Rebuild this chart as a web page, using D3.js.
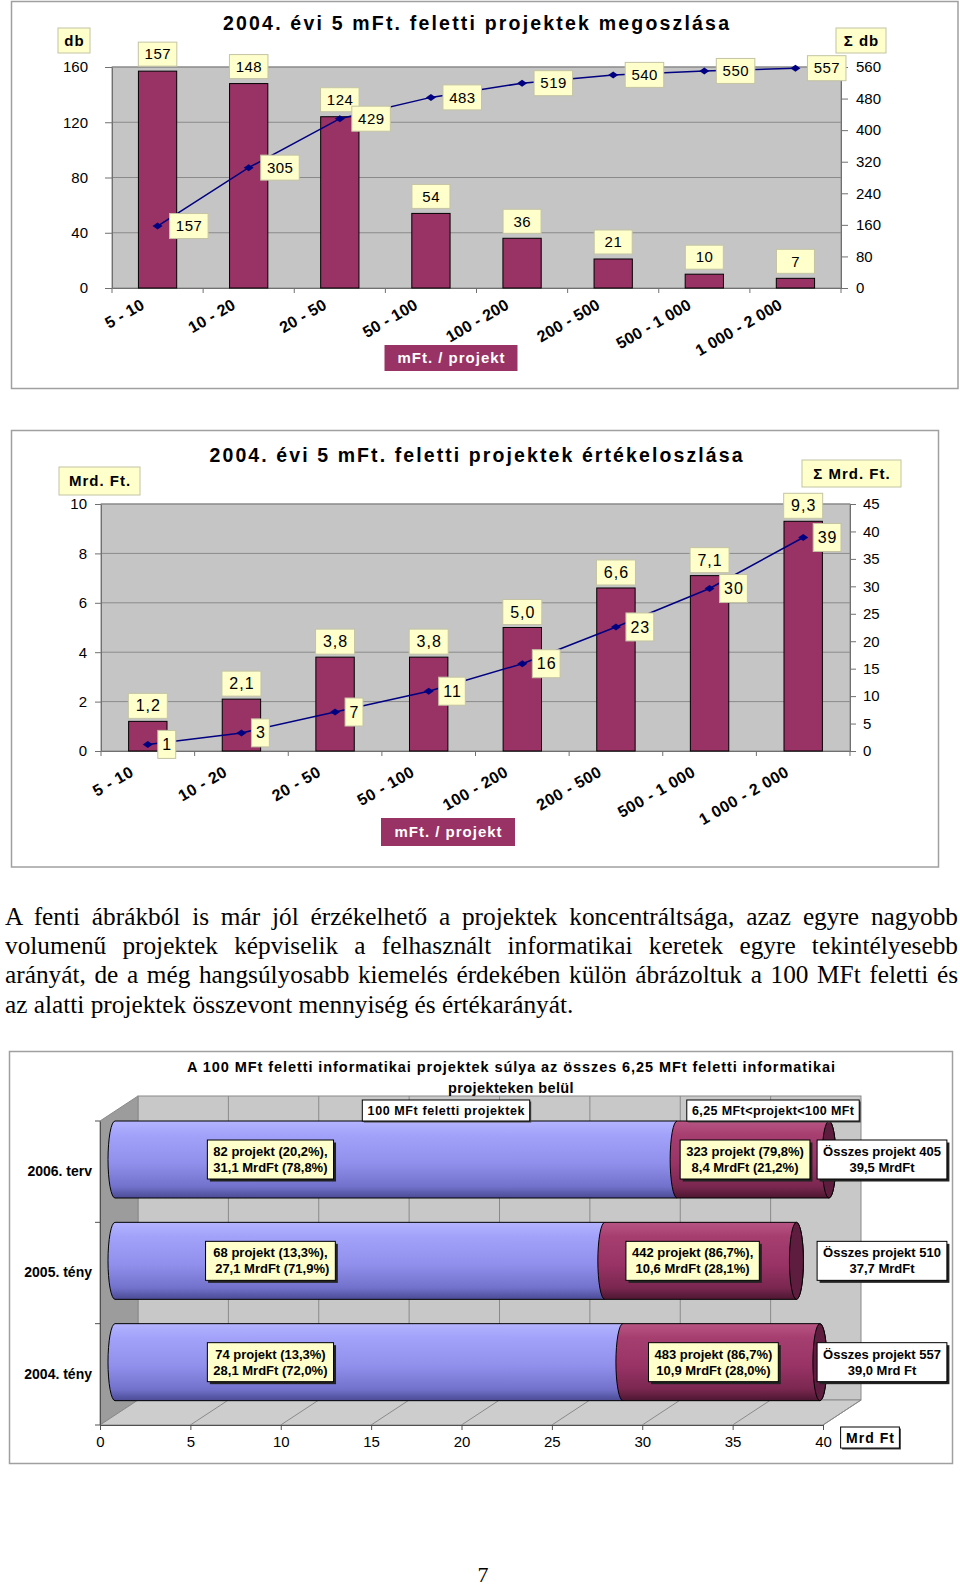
<!DOCTYPE html>
<html>
<head>
<meta charset="utf-8">
<script src="https://cdn.jsdelivr.net/npm/d3@7"></script>
<style>
body { margin: 0; background: #fff; }
svg { display: block; font-family: "Liberation Sans", Arial, sans-serif; }
</style>
</head>
<body>
<svg id="page" width="960" height="1586"></svg>
<script>
// kategóriák (mFt / projekt)
const categories = ["5 - 10", "10 - 20", "20 - 50", "50 - 100", "100 - 200", "200 - 500", "500 - 1 000", "1 000 - 2 000"];

// 1. ábra: darabszám és kumulált darabszám
const projectCount = [157, 148, 124, 54, 36, 21, 10, 7];
const projectCountCum = [157, 305, 429, 483, 519, 540, 550, 557];
const countTicks = [0, 40, 80, 120, 160];
const countCumTicks = [0, 80, 160, 240, 320, 400, 480, 560];

// 2. ábra: érték (Mrd Ft) és kumulált érték
const projectValue = [1.2, 2.1, 3.8, 3.8, 5.0, 6.6, 7.1, 9.3];
const projectValueCum = [1.2, 3.3, 7.1, 10.9, 15.9, 22.6, 29.6, 38.9];
const valueTicks = [0, 2, 4, 6, 8, 10];
const valueCumTicks = [0, 5, 10, 15, 20, 25, 30, 35, 40, 45];

// 3. ábra
const years = ["2006. terv", "2005. tény", "2004. tény"];
const over100 = [31.1, 27.1, 28.1];
const under100 = [8.4, 10.6, 10.9];
const over100Labels = [["82 projekt (20,2%),", "31,1 MrdFt (78,8%)"], ["68 projekt (13,3%),", " 27,1 MrdFt (71,9%)"], ["74 projekt (13,3%)", "28,1 MrdFt (72,0%)"]];
const under100Labels = [["323 projekt (79,8%)", "8,4 MrdFt (21,2%)"], ["442 projekt (86,7%),", "10,6 MrdFt (28,1%)"], ["483 projekt (86,7%)", "10,9 MrdFt (28,0%)"]];
const totalLabels = [["Összes projekt 405", "39,5 MrdFt"], ["Összes projekt 510", "37,7 MrdFt"], ["Összes projekt 557", "39,0 Mrd Ft"]];
const mrdTicks = [0, 5, 10, 15, 20, 25, 30, 35, 40];
const seriesNames = ["100 MFt feletti projektek", "6,25 MFt<projekt<100 MFt"];

const paragraphLines = [
    "A fenti ábrákból is már jól érzékelhető a projektek koncentráltsága, azaz egyre nagyobb",
    "volumenű projektek képviselik a felhasznált informatikai keretek egyre tekintélyesebb",
    "arányát, de a még hangsúlyosabb kiemelés érdekében külön ábrázoltuk a 100 MFt feletti és",
    "az alatti projektek összevont mennyiség és értékarányát."
];

const svg = d3.select("#page");
svg.append("rect").attr("width", 960).attr("height", 1586).attr("fill", "#fff");

const YELLOW = "#ffffcc";
const PLUM = "#993366";

function boxLabel(g, text, o) {
    let grp = g.append("g");
    let rect = grp.append("rect");
    let t = grp.append("text").text(text)
        .attr("font-size", o.fs)
        .attr("font-weight", o.fw || "normal")
        .attr("letter-spacing", o.ls || 0)
        .attr("fill", o.color || "#000")
        .attr("text-anchor", "middle");
    let tw = t.node().getComputedTextLength();
    let w = o.w || Math.max(o.minW || 0, tw + 2 * o.padX);
    let cx = o.cx != null ? o.cx : o.left + w / 2;
    t.attr("x", cx + (o.ls || 0) / 2).attr("y", o.cy + o.fs * 0.35);
    rect.attr("x", cx - w / 2).attr("y", o.cy - o.h / 2)
        .attr("width", w).attr("height", o.h)
        .attr("fill", o.fill)
        .attr("stroke", o.stroke || "none")
        .attr("stroke-width", 1);
    return grp;
}

function styleAxis(sel, fs, weight) {
    sel.attr("font-family", null).attr("font-size", null);
    sel.selectAll("text").attr("font-size", fs).attr("font-weight", weight || "normal").attr("fill", "#000");
    sel.selectAll("line,path").attr("stroke", "#707070");
}

function comboChart(c) {
    let g = svg.append("g");

    g.append("rect")
        .attr("x", c.frame[0]).attr("y", c.frame[1])
        .attr("width", c.frame[2]).attr("height", c.frame[3])
        .attr("fill", "#fff").attr("stroke", "#a0a0a0").attr("stroke-width", 1.5);

    let x = d3.scaleBand().domain(categories).range([c.left, c.right]);
    let yL = d3.scaleLinear().domain(d3.extent(c.leftTicks)).range([c.bottom, c.top]);
    let yR = d3.scaleLinear().domain(d3.extent(c.rightTicks)).range([c.bottom, c.top]);

    // plot area
    g.append("rect")
        .attr("x", c.left).attr("y", c.top)
        .attr("width", c.right - c.left).attr("height", c.bottom - c.top)
        .attr("fill", "#c5c5c5").attr("stroke", "#8a8a8a");

    g.selectAll(".grid")
        .data(c.leftTicks.slice(1))
        .enter()
        .append("line")
        .attr("x1", c.left).attr("x2", c.right)
        .attr("y1", d => yL(d)).attr("y2", d => yL(d))
        .attr("stroke", "#8a8a8a");

    // axes
    let leftAxis = d3.axisLeft(yL).tickValues(c.leftTicks).tickSize(c.tickSize).tickSizeOuter(0).tickPadding(c.leftPad);
    g.append("g").attr("transform", "translate(" + c.left + ",0)").call(leftAxis).call(s => styleAxis(s, c.tickFont));

    let rightAxis = d3.axisRight(yR).tickValues(c.rightTicks).tickSize(c.tickSize).tickSizeOuter(0).tickPadding(c.rightPad);
    g.append("g").attr("transform", "translate(" + c.right + ",0)").call(rightAxis).call(s => styleAxis(s, c.tickFont));

    let bottomAxis = d3.axisBottom(x).tickSize(0).tickSizeOuter(0);
    let bx = g.append("g").attr("transform", "translate(0," + c.bottom + ")").call(bottomAxis);
    styleAxis(bx, 16, "bold");
    bx.selectAll("text")
        .attr("x", 0).attr("y", 0).attr("dy", null)
        .attr("letter-spacing", c.catLs)
        .style("text-anchor", "end")
        .attr("transform", "translate(" + c.catDx + "," + c.catDy + ") rotate(-30)");

    let bounds = categories.map(d => x(d)).concat([c.right]);
    g.selectAll(".xtick")
        .data(bounds)
        .enter()
        .append("line")
        .attr("x1", d => d).attr("x2", d => d)
        .attr("y1", c.bottom).attr("y2", c.bottom + 5)
        .attr("stroke", "#707070");

    // bars
    let bw = x.bandwidth() * c.barRatio;
    g.selectAll(".bar")
        .data(c.leftVals)
        .enter()
        .append("rect")
        .attr("x", (d, i) => x(categories[i]) + (x.bandwidth() - bw) / 2)
        .attr("y", d => yL(d))
        .attr("width", bw)
        .attr("height", d => c.bottom - yL(d))
        .attr("fill", PLUM)
        .attr("stroke", "#000")
        .attr("stroke-width", 1);

    // cumulative line
    let cx = (d, i) => x(categories[i]) + x.bandwidth() / 2;
    let line = d3.line().x(cx).y(d => yR(d));
    g.append("path").datum(c.rightVals)
        .attr("d", line)
        .attr("fill", "none")
        .attr("stroke", "#000080")
        .attr("stroke-width", 1.5);

    g.selectAll(".marker")
        .data(c.rightVals)
        .enter()
        .append("path")
        .attr("d", "M-5,0L0,-3.5L5,0L0,3.5Z")
        .attr("transform", (d, i) => "translate(" + cx(d, i) + "," + yR(d) + ")")
        .attr("fill", "#000080");

    // value labels
    c.leftVals.forEach(function(d, i) {
        boxLabel(g, c.barFmt(d), {
            cx: cx(d, i), cy: yL(d) - c.barGap - c.barBoxH / 2, h: c.barBoxH,
            minW: c.barBoxMinW, padX: 6, fs: c.valueFont, ls: c.valueLs,
            fill: YELLOW, stroke: "#c4c4a4"
        });
    });
    c.rightVals.forEach(function(d, i) {
        boxLabel(g, c.lineFmt(d), {
            left: cx(d, i) + c.lineGap, cy: yR(d), h: c.lineBoxH,
            padX: c.linePad, fs: c.valueFont, ls: c.valueLs,
            fill: YELLOW, stroke: "#c4c4a4"
        });
    });

    // title
    g.append("text")
        .attr("x", c.titleX).attr("y", c.titleY)
        .attr("text-anchor", "middle")
        .attr("font-size", 19.5).attr("font-weight", "bold")
        .attr("textLength", c.titleLen).attr("lengthAdjust", "spacing")
        .text(c.title);

    boxLabel(g, c.leftUnit.text, {cx: c.leftUnit.cx, cy: c.leftUnit.cy, w: c.leftUnit.w, h: c.leftUnit.h, fs: 15, fw: "bold", ls: 1, fill: YELLOW, stroke: "#c4c4a4"});
    boxLabel(g, c.rightUnit.text, {cx: c.rightUnit.cx, cy: c.rightUnit.cy, w: c.rightUnit.w, h: c.rightUnit.h, fs: 15, fw: "bold", ls: 1, fill: YELLOW, stroke: "#c4c4a4"});
    boxLabel(g, "mFt. / projekt", {cx: c.axisLabel.cx, cy: c.axisLabel.cy, w: c.axisLabel.w, h: c.axisLabel.h, fs: 15, fw: "bold", ls: 1, fill: PLUM, color: "#fff"});
}

comboChart({
    frame: [11.5, 1.5, 946.5, 387],
    left: 112, right: 841, top: 67, bottom: 288,
    leftVals: projectCount, rightVals: projectCountCum,
    leftTicks: countTicks, rightTicks: countCumTicks,
    title: "2004. évi 5 mFt. feletti projektek megoszlása", titleX: 476, titleY: 30, titleLen: 506,
    leftUnit: {text: "db", cx: 74, cy: 40.5, w: 32, h: 25},
    rightUnit: {text: "Σ db", cx: 861, cy: 40.5, w: 50, h: 25},
    axisLabel: {cx: 451, cy: 358, w: 133, h: 26},
    tickFont: 15, tickSize: 7, leftPad: 17, rightPad: 8,
    barFmt: d3.format("d"), lineFmt: d3.format("d"),
    valueFont: 15, valueLs: 0.5,
    barRatio: 0.42, barBoxH: 24, barBoxMinW: 38, barGap: 5,
    lineBoxH: 25, linePad: 6, lineGap: 12,
    catDx: -12, catDy: 20, catLs: 0.2
});

comboChart({
    frame: [11.5, 430.5, 927, 436.5],
    left: 101, right: 850, top: 504, bottom: 751,
    leftVals: projectValue, rightVals: projectValueCum,
    leftTicks: valueTicks, rightTicks: valueCumTicks,
    title: "2004. évi 5 mFt. feletti projektek értékeloszlása", titleX: 476, titleY: 462, titleLen: 533,
    leftUnit: {text: "Mrd. Ft.", cx: 99.5, cy: 481, w: 81, h: 28},
    rightUnit: {text: "Σ Mrd. Ft.", cx: 851.5, cy: 473.5, w: 99, h: 27},
    axisLabel: {cx: 448, cy: 832, w: 134, h: 28},
    tickFont: 15, tickSize: 6, leftPad: 8, rightPad: 7,
    barFmt: v => d3.format(".1f")(v).replace(".", ","), lineFmt: d3.format(".0f"),
    valueFont: 16, valueLs: 1,
    barRatio: 0.41, barBoxH: 25, barBoxMinW: 39, barGap: 3,
    lineBoxH: 28, linePad: 4, lineGap: 10,
    catDx: -13, catDy: 24, catLs: 0.5
});

// szöveg
let para = svg.append("g")
    .attr("font-family", "'Liberation Serif', 'Times New Roman', serif")
    .attr("font-size", 25.3);
paragraphLines.forEach(function(s, i) {
    let t = para.append("text").attr("x", 5).attr("y", 925 + i * 29.2).text(s);
    if (i < paragraphLines.length - 1) {
        let natural = t.node().getComputedTextLength();
        let spaces = s.split(" ").length - 1;
        t.attr("word-spacing", (953 - natural) / spaces);
    }
});

// 3. ábra
(function() {
    let g = svg.append("g");
    g.append("rect").attr("x", 9.5).attr("y", 1051.5).attr("width", 943).attr("height", 412)
        .attr("fill", "#fff").attr("stroke", "#a0a0a0").attr("stroke-width", 1.5);

    let defs = svg.append("defs");
    function grad(id, stops) {
        let lg = defs.append("linearGradient").attr("id", id).attr("x1", 0).attr("y1", 0).attr("x2", 0).attr("y2", 1);
        stops.forEach(s => lg.append("stop").attr("offset", s[0]).attr("stop-color", s[1]));
    }
    grad("blueCyl", [[0, "#b4b4ff"], [0.18, "#a2a2fa"], [0.55, "#9090ec"], [0.85, "#7272cc"], [1, "#4a4a94"]]);
    grad("plumCyl", [[0, "#b85584"], [0.18, "#a63f70"], [0.55, "#993366"], [0.85, "#7a2750"], [1, "#4c1630"]]);

    let x3 = d3.scaleLinear().domain([0, 40]).range([100, 823]);
    let y3 = d3.scaleBand().domain(years).range([1121, 1425]);
    let DX = 38, DY = -25;
    let top0 = 1121, bot0 = 1425;

    // falak
    g.append("rect").attr("x", x3(0) + DX).attr("y", top0 + DY)
        .attr("width", x3(40) - x3(0)).attr("height", bot0 - top0)
        .attr("fill", "#c8c8c8").attr("stroke", "#8a8a8a");
    g.selectAll(".vgrid").data(mrdTicks.slice(1, -1)).enter().append("line")
        .attr("x1", d => x3(d) + DX).attr("x2", d => x3(d) + DX)
        .attr("y1", top0 + DY).attr("y2", bot0 + DY)
        .attr("stroke", "#8a8a8a");
    g.append("polygon")
        .attr("points", [[x3(0), top0], [x3(0) + DX, top0 + DY], [x3(0) + DX, bot0 + DY], [x3(0), bot0]].join(" "))
        .attr("fill", "#9c9c9c").attr("stroke", "#8a8a8a");
    g.append("polygon")
        .attr("points", [[x3(0), bot0], [x3(0) + DX, bot0 + DY], [x3(40) + DX, bot0 + DY], [x3(40), bot0]].join(" "))
        .attr("fill", "#cdcdcd").attr("stroke", "#8a8a8a");
    g.selectAll(".fgrid").data(mrdTicks.slice(1)).enter().append("line")
        .attr("x1", d => x3(d)).attr("x2", d => x3(d) + DX)
        .attr("y1", bot0).attr("y2", bot0 + DY)
        .attr("stroke", "#8a8a8a");

    // tengelyek
    let ax = g.append("g").attr("transform", "translate(0," + bot0 + ")")
        .call(d3.axisBottom(x3).tickValues(mrdTicks).tickSize(5).tickSizeOuter(0).tickPadding(6));
    styleAxis(ax, 15);
    ax.selectAll("line,path").attr("stroke", "#505050");

    let ay = g.append("g").attr("transform", "translate(" + x3(0) + ",0)")
        .call(d3.axisLeft(y3).tickSize(0).tickSizeOuter(0).tickPadding(8));
    styleAxis(ay, 14, "bold");
    ay.selectAll("line,path").attr("stroke", "#505050");
    g.selectAll(".ytick").data(years.map(d => y3(d)).concat([bot0])).enter().append("line")
        .attr("x1", x3(0) - 5).attr("x2", x3(0))
        .attr("y1", d => d).attr("y2", d => d)
        .attr("stroke", "#505050");

    function multiBox(lines, cx, cy, fill) {
        let grp = g.append("g");
        let shadow = grp.append("rect");
        let rect = grp.append("rect");
        let t = grp.append("text")
            .attr("font-size", 13).attr("font-weight", "bold")
            .attr("text-anchor", "middle").style("white-space", "pre");
        lines.forEach(function(s, k) {
            t.append("tspan").attr("x", cx).attr("y", cy - 3.5 + k * 16).text(s);
        });
        let w = d3.max(t.selectAll("tspan").nodes(), n => n.getComputedTextLength()) + 12;
        let h = 39;
        rect.attr("x", cx - w / 2).attr("y", cy - h / 2).attr("width", w).attr("height", h)
            .attr("fill", fill).attr("stroke", "#000");
        shadow.attr("x", cx - w / 2 + 2.5).attr("y", cy - h / 2 + 2.5).attr("width", w).attr("height", h)
            .attr("fill", "#222");
    }

    // hengerek
    let off = 15, rx = 7, ry = y3.bandwidth() * 0.38;
    years.forEach(function(yr, i) {
        let cy = y3(yr) + ry;
        let top = cy - ry, bot = cy + ry;
        let x0 = x3(0) + off, x1 = x3(over100[i]) + off, x2 = x3(over100[i] + under100[i]) + off;
        g.append("path")
            .attr("d", "M" + x1 + "," + top + "L" + x0 + "," + top + "A" + rx + "," + ry + " 0 0 0 " + x0 + "," + bot + "L" + x1 + "," + bot + "Z")
            .attr("fill", "url(#blueCyl)").attr("stroke", "#000").attr("stroke-width", 1);
        g.append("path")
            .attr("d", "M" + x1 + "," + top + "L" + x2 + "," + top + "A" + rx + "," + ry + " 0 0 1 " + x2 + "," + bot + "L" + x1 + "," + bot + "A" + rx + "," + ry + " 0 0 1 " + x1 + "," + top + "Z")
            .attr("fill", "url(#plumCyl)").attr("stroke", "#000").attr("stroke-width", 1);
        g.append("ellipse").attr("cx", x2).attr("cy", cy).attr("rx", rx).attr("ry", ry)
            .attr("fill", "#5e1d3e").attr("stroke", "#000").attr("stroke-width", 1);

        multiBox(over100Labels[i], x3(8.6) + off, cy, YELLOW);
        multiBox(under100Labels[i], (x1 + x2) / 2 - 8, cy, YELLOW);
        multiBox(totalLabels[i], 882, cy, "#fff");
    });

    // jelmagyarázat
    function legendBox(text, cx, cy, fs, ls) {
        let grp = g.append("g");
        let shadow = grp.append("rect");
        let rect = grp.append("rect");
        let t = grp.append("text").text(text)
            .attr("font-size", fs).attr("font-weight", "bold").attr("letter-spacing", ls)
            .attr("text-anchor", "middle").attr("x", cx + ls / 2).attr("y", cy + fs * 0.36);
        let w = t.node().getComputedTextLength() + 10;
        rect.attr("x", cx - w / 2).attr("y", cy - 10.5).attr("width", w).attr("height", 21)
            .attr("fill", "#fff").attr("stroke", "#000");
        shadow.attr("x", cx - w / 2 + 1.5).attr("y", cy - 9).attr("width", w).attr("height", 21).attr("fill", "#444");
    }
    legendBox(seriesNames[0], 446, 1110.5, 12.5, 0.6);
    legendBox(seriesNames[1], 773, 1110.5, 12.5, 0.4);
    legendBox("Mrd Ft", 870, 1437.5, 14, 1);

    // cím
    g.append("text").attr("x", 511).attr("y", 1072).attr("text-anchor", "middle")
        .attr("font-size", 14.5).attr("font-weight", "bold")
        .attr("textLength", 648).attr("lengthAdjust", "spacing")
        .text("A 100 MFt feletti informatikai projektek súlya az összes 6,25 MFt feletti informatikai");
    g.append("text").attr("x", 511).attr("y", 1093).attr("text-anchor", "middle")
        .attr("font-size", 14.5).attr("font-weight", "bold").attr("letter-spacing", 0.4)
        .text("projekteken belül");
})();

// oldalszám
svg.append("text").attr("x", 483).attr("y", 1582).attr("text-anchor", "middle")
    .attr("font-family", "'Liberation Serif', 'Times New Roman', serif").attr("font-size", 22)
    .text("7");
</script>
</body>
</html>
